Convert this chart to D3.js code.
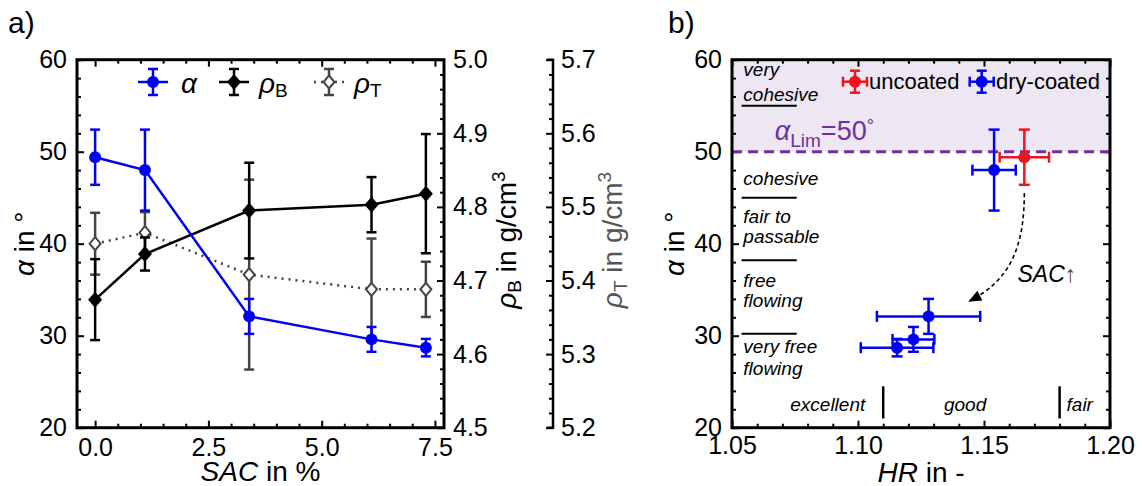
<!DOCTYPE html>
<html><head><meta charset="utf-8">
<script src="https://cdn.jsdelivr.net/npm/d3@7"></script>
<style>body{margin:0;background:#fff} svg text{font-family:"Liberation Sans",Arial,Helvetica,sans-serif}</style>
</head><body><svg id="c" width="1142" height="486"></svg>
<script>
// ---------- data: panel a ----------
const sac = [0, 1.1, 3.4, 6.1, 7.3];
const alpha = [49.4, 48.0, 32.1, 29.6, 28.7];
const alphaErr = [3.0, 4.4, 1.9, 1.35, 0.95];
const rhoB = [4.674, 4.736, 4.795, 4.803, 4.818];
const rhoBErr = [0.055, 0.0225, 0.065, 0.0375, 0.081];
const rhoT = [5.450, 5.465, 5.408, 5.388, 5.388];
const rhoTErr = [0.042, 0.028, 0.129, 0.069, 0.0375];
const sacTicks = [0, 2.5, 5, 7.5];
const alphaTicks = [20, 30, 40, 50, 60];
const rhoBTicks = [4.5, 4.6, 4.7, 4.8, 4.9, 5.0];
const rhoTTicks = [5.2, 5.3, 5.4, 5.5, 5.6, 5.7];
// ---------- data: panel b ----------
const hrUncoated = [1.166];
const alphaUncoated = [49.4];
const alphaUncoatedErr = [3.0];
const hrUncoatedErr = [0.0098];
const hrDry = [1.154, 1.128, 1.122, 1.1155];
const alphaDry = [48.0, 32.1, 29.6, 28.7];
const alphaDryErr = [4.4, 1.9, 1.35, 0.95];
const hrDryErr = [0.0086, 0.0205, 0.0083, 0.0144];
const hrTicks = [1.05, 1.10, 1.15, 1.20];
const alphaLim = 50;
const flowText = [["very", 58.2], ["cohesive", 55.5], ["cohesive", 46.4], ["fair to", 42.25], ["passable", 40.1], ["free", 35.3], ["flowing", 33.1], ["very free", 28.1], ["flowing", 25.7]];
const flowBounds = [55, 45, 38.2, 30.2];
const hrBounds = [1.11, 1.18];
const hrText = [["excellent", 1.088], ["good", 1.1425], ["fair", 1.188]];

const svg = d3.select("#c");
const FS = 25;

function axis(g, make, major, minor, fmt, pad, showLabels) {
  const a = g.append("g").call(make().tickValues(minor.filter(v => !major.some(m => Math.abs(m - v) < 1e-9))).tickSize(-4).tickFormat(""));
  a.select(".domain").remove();
  const b = g.append("g").call(make().tickValues(major).tickSize(-7).tickPadding(pad).tickFormat(showLabels ? fmt : ""));
  b.select(".domain").remove();
  b.selectAll("text").attr("font-size", FS).attr("fill", "#000").style("font-family", '"Liberation Sans",Arial,sans-serif');
  g.selectAll("line").attr("stroke", "#000").attr("stroke-width", 2);
}
const rng = (a, b, s) => d3.range(Math.round((b - a) / s) + 1).map(i => +(a + i * s).toFixed(4));

// ================= PANEL A =================
const L = {x0: 77, x1: 444, y0: 59.7, y1: 427.7};
const xL = d3.scaleLinear().domain([-0.4, 7.7]).range([L.x0, L.x1]);
const yL = d3.scaleLinear().domain([20, 60]).range([L.y1, L.y0]);
const yB = d3.scaleLinear().domain([4.5, 5.0]).range([L.y1, L.y0]);
const yT = d3.scaleLinear().domain([5.2, 5.7]).range([L.y1, L.y0]);
const ga = svg.append("g");

axis(ga.append("g").attr("transform", `translate(${L.x0},0)`), () => d3.axisLeft(yL), alphaTicks, rng(20, 60, 2), d3.format("d"), 10, true);
axis(ga.append("g").attr("transform", `translate(0,${L.y1})`), () => d3.axisBottom(xL), sacTicks, rng(0, 7.5, 0.5), d3.format(".1f"), 11, true);
axis(ga.append("g").attr("transform", `translate(0,${L.y0})`), () => d3.axisTop(xL), sacTicks, rng(0, 7.5, 0.5), d3.format(".1f"), 10, false);
axis(ga.append("g").attr("transform", `translate(${L.x1},0)`), () => d3.axisRight(yB), rhoBTicks, rng(4.5, 5.0, 0.02), d3.format(".1f"), 9, true);
// rho_T separate axis
const gT = ga.append("g").attr("transform", `translate(553,0)`);
axis(gT, () => d3.axisRight(yT), rhoTTicks, rng(5.2, 5.7, 0.02), d3.format(".1f"), 8, true);
gT.append("path").attr("d", `M-6,${L.y0}H0V${L.y1}H-6`).attr("fill", "none").attr("stroke", "#000").attr("stroke-width", 2.5);

const BLUE = "#0000f5", GREY = "#444", RED = "#f0141e";
function series(g, ys, vals, errs, color, dash, sym) {
  const pts = sac.map((s, i) => ({x: xL(s), y: ys(vals[i]), lo: ys(vals[i] - errs[i]), hi: ys(vals[i] + errs[i])}));
  g.append("path").attr("d", d3.line().x(d => d.x).y(d => d.y)(pts)).attr("fill", "none").attr("stroke", color).attr("stroke-width", 2.5).attr("stroke-dasharray", dash || null);
  const e = g.append("g").attr("stroke", color).attr("stroke-width", 2.5);
  e.selectAll(".v").data(pts).join("line").attr("x1", d => d.x).attr("x2", d => d.x).attr("y1", d => d.lo).attr("y2", d => d.hi);
  e.selectAll(".t").data(pts).join("line").attr("x1", d => d.x - 5).attr("x2", d => d.x + 5).attr("y1", d => d.hi).attr("y2", d => d.hi);
  e.selectAll(".b").data(pts).join("line").attr("x1", d => d.x - 5).attr("x2", d => d.x + 5).attr("y1", d => d.lo).attr("y2", d => d.lo);
  sym(g.selectAll(".m").data(pts).join("g").attr("transform", d => `translate(${d.x},${d.y})`));
}
const circ = (c) => (s) => s.append("circle").attr("r", 6).attr("fill", c);
const dia = (s) => s.append("path").attr("d", "M0,-8L7,0L0,8L-7,0Z").attr("fill", "#000");
const odia = (s) => s.append("path").attr("d", "M0,-6.5L5.5,0L0,6.5L-5.5,0Z").attr("fill", "#fff").attr("stroke", GREY).attr("stroke-width", 2);
series(ga, yT, rhoT, rhoTErr, GREY, "2,5", odia);
series(ga, yB, rhoB, rhoBErr, "#000", null, dia);
series(ga, yL, alpha, alphaErr, BLUE, null, circ(BLUE));
ga.append("rect").attr("x", L.x0).attr("y", L.y0).attr("width", L.x1 - L.x0).attr("height", L.y1 - L.y0).attr("fill", "none").attr("stroke", "#000").attr("stroke-width", 3);

// legend a
function legItem(g, cx, color, dash, sym) {
  const y = 82;
  g.append("line").attr("x1", cx - 15).attr("x2", cx + 15).attr("y1", y).attr("y2", y).attr("stroke", color).attr("stroke-width", 2.5).attr("stroke-dasharray", dash || null);
  g.append("line").attr("x1", cx).attr("x2", cx).attr("y1", y - 13).attr("y2", y + 13).attr("stroke", color).attr("stroke-width", 2.5);
  g.append("line").attr("x1", cx - 5).attr("x2", cx + 5).attr("y1", y - 13).attr("y2", y - 13).attr("stroke", color).attr("stroke-width", 2.5);
  g.append("line").attr("x1", cx - 5).attr("x2", cx + 5).attr("y1", y + 13).attr("y2", y + 13).attr("stroke", color).attr("stroke-width", 2.5);
  sym(g.append("g").attr("transform", `translate(${cx},${y})`));
}
legItem(ga, 153, BLUE, null, circ(BLUE));
legItem(ga, 234, "#000", null, dia);
legItem(ga, 329, GREY, "2,5", odia);
ga.append("text").attr("x", 181).attr("y", 93).attr("font-size", 28).attr("font-style", "italic").text("α");
const lb = ga.append("text").attr("x", 259).attr("y", 93).attr("font-size", 28);
lb.append("tspan").attr("font-style", "italic").text("ρ");
lb.append("tspan").attr("font-size", 19).attr("dy", 4).text("B");
const lt = ga.append("text").attr("x", 354).attr("y", 93).attr("font-size", 28);
lt.append("tspan").attr("font-style", "italic").text("ρ");
lt.append("tspan").attr("font-size", 19).attr("dy", 4).text("T");

// axis labels a
const ya = ga.append("text").attr("transform", "translate(34,243.7) rotate(-90)").attr("text-anchor", "middle").attr("font-size", 28);
ya.append("tspan").attr("font-style", "italic").text("α");
ya.append("tspan").text(" in °");
const xa = ga.append("text").attr("x", 260.5).attr("y", 481).attr("text-anchor", "middle").attr("font-size", 28);
xa.append("tspan").attr("font-style", "italic").text("SAC");
xa.append("tspan").text(" in %");
function rhoLabel(x, sub, color) {
  const t = ga.append("text").attr("transform", `translate(${x},240) rotate(-90)`).attr("text-anchor", "middle").attr("font-size", 28).attr("fill", color);
  t.append("tspan").attr("font-style", "italic").text("ρ");
  t.append("tspan").attr("font-size", 19).attr("dy", 5).text(sub);
  t.append("tspan").attr("dy", -5).text(" in g/cm");
  t.append("tspan").attr("font-size", 19).attr("dy", -11).text("3");
}
rhoLabel(516, "B", "#000");
rhoLabel(622, "T", "#555");
svg.append("text").attr("x", 8).attr("y", 33).attr("font-size", 30).text("a)");

// ================= PANEL B =================
const R = {x0: 732, x1: 1110, y0: 59.7, y1: 427.7};
const xR = d3.scaleLinear().domain([1.05, 1.20]).range([R.x0, R.x1]);
const yR = d3.scaleLinear().domain([20, 60]).range([R.y1, R.y0]);
const gb = svg.append("g");
gb.append("rect").attr("x", xR(1.05)).attr("y", yR(60)).attr("width", xR(1.2) - xR(1.05)).attr("height", yR(alphaLim) - yR(60)).attr("fill", "#ece7f2");
axis(gb.append("g").attr("transform", `translate(${R.x0},0)`), () => d3.axisLeft(yR), alphaTicks, rng(20, 60, 2), d3.format("d"), 10, true);
axis(gb.append("g").attr("transform", `translate(${R.x1},0)`), () => d3.axisRight(yR), alphaTicks, rng(20, 60, 2), d3.format("d"), 10, false);
axis(gb.append("g").attr("transform", `translate(0,${R.y1})`), () => d3.axisBottom(xR), hrTicks, rng(1.05, 1.2, 0.01), d3.format(".2f"), 9, true);
axis(gb.append("g").attr("transform", `translate(0,${R.y0})`), () => d3.axisTop(xR), hrTicks, rng(1.05, 1.2, 0.01), d3.format(".2f"), 9, false);

gb.append("line").attr("x1", xR(1.05)).attr("x2", xR(1.2)).attr("y1", yR(alphaLim)).attr("y2", yR(alphaLim)).attr("stroke", "#7030a0").attr("stroke-width", 3).attr("stroke-dasharray", "10,6");
const al = gb.append("text").attr("x", xR(1.067)).attr("y", yR(51.25)).attr("font-size", 27).attr("fill", "#7030a0");
al.append("tspan").attr("font-style", "italic").text("α");
al.append("tspan").attr("font-size", 19).attr("dy", 7).text("Lim");
al.append("tspan").attr("dy", -7).text("=50");
al.append("tspan").attr("font-size", 18).attr("dy", -8).text("°");

// flowability classes
gb.selectAll(".ft").data(flowText).join("text").attr("x", xR(1.0545)).attr("y", d => yR(d[1])).attr("font-size", 19).attr("font-style", "italic").text(d => d[0]);
gb.selectAll(".fb").data(flowBounds).join("line").attr("x1", xR(1.0538)).attr("x2", xR(1.0757)).attr("y1", d => yR(d)).attr("y2", d => yR(d)).attr("stroke", "#000").attr("stroke-width", 2);
gb.selectAll(".hb").data(hrBounds).join("line").attr("x1", d => xR(d)).attr("x2", d => xR(d)).attr("y1", yR(24.5)).attr("y2", yR(21)).attr("stroke", "#000").attr("stroke-width", 2.5);
gb.selectAll(".ht").data(hrText).join("text").attr("x", d => xR(d[1])).attr("y", yR(21.8)).attr("text-anchor", "middle").attr("font-size", 19).attr("font-style", "italic").text(d => d[0]);

// arrow
const defs = svg.append("defs");
defs.append("marker").attr("id", "ah").attr("viewBox", "0 0 12 10").attr("refX", 10).attr("refY", 5).attr("markerWidth", 14).attr("markerHeight", 11).attr("markerUnits", "userSpaceOnUse").attr("orient", "auto")
  .append("path").attr("d", "M0,0L12,5L0,10Z").attr("fill", "#000");
const arrowPts = [[1.166, 45.5], [1.166, 39.5], [1.160, 36.0], [1.1445, 33.8]].map(p => [xR(p[0]), yR(p[1])]);
gb.append("path").attr("d", `M${arrowPts[0]}C${arrowPts[1]} ${arrowPts[2]} ${arrowPts[3]}`).attr("fill", "none").attr("stroke", "#000").attr("stroke-width", 1.6).attr("stroke-dasharray", "4,3").attr("marker-end", "url(#ah)");
const st = gb.append("text").attr("x", xR(1.1633)).attr("y", yR(35.85)).attr("font-size", 23);
st.append("tspan").attr("font-style", "italic").text("SAC");
st.append("tspan").attr("fill", "#6b3d1e").text("↑");

function xyErr(g, xs, ys, xe, ye, color) {
  const pts = xs.map((x, i) => ({x: xR(x), y: yR(ys[i]), xl: xR(x - xe[i]), xh: xR(x + xe[i]), yl: yR(ys[i] - ye[i]), yh: yR(ys[i] + ye[i])}));
  const e = g.append("g").attr("stroke", color).attr("stroke-width", 2.5);
  pts.forEach(d => {
    e.append("line").attr("x1", d.xl).attr("x2", d.xh).attr("y1", d.y).attr("y2", d.y);
    e.append("line").attr("x1", d.x).attr("x2", d.x).attr("y1", d.yl).attr("y2", d.yh);
    [d.xl, d.xh].forEach(x => e.append("line").attr("x1", x).attr("x2", x).attr("y1", d.y - 5.5).attr("y2", d.y + 5.5));
    [d.yl, d.yh].forEach(y => e.append("line").attr("x1", d.x - 5.5).attr("x2", d.x + 5.5).attr("y1", y).attr("y2", y));
  });
  g.selectAll(null).data(pts).join("circle").attr("cx", d => d.x).attr("cy", d => d.y).attr("r", 6).attr("fill", color);
}
xyErr(gb, hrUncoated, alphaUncoated, hrUncoatedErr, alphaUncoatedErr, RED);
xyErr(gb, hrDry, alphaDry, hrDryErr, alphaDryErr, BLUE);

// legend b
function legB(cx, color, label, tx) {
  const y = 81.7, e = gb.append("g").attr("stroke", color).attr("stroke-width", 2.5);
  e.append("line").attr("x1", cx - 12).attr("x2", cx + 12).attr("y1", y).attr("y2", y);
  e.append("line").attr("x1", cx).attr("x2", cx).attr("y1", y - 11).attr("y2", y + 11);
  [cx - 12, cx + 12].forEach(x => e.append("line").attr("x1", x).attr("x2", x).attr("y1", y - 5).attr("y2", y + 5));
  [y - 11, y + 11].forEach(yy => e.append("line").attr("x1", cx - 5).attr("x2", cx + 5).attr("y1", yy).attr("y2", yy));
  gb.append("circle").attr("cx", cx).attr("cy", y).attr("r", 6).attr("fill", color);
  gb.append("text").attr("x", tx).attr("y", 89).attr("font-size", 22).text(label);
}
legB(855, RED, "uncoated", 869);
legB(981.7, BLUE, "dry-coated", 996);

gb.append("rect").attr("x", R.x0).attr("y", R.y0).attr("width", R.x1 - R.x0).attr("height", R.y1 - R.y0).attr("fill", "none").attr("stroke", "#000").attr("stroke-width", 3);
const yb = gb.append("text").attr("transform", "translate(684,243.7) rotate(-90)").attr("text-anchor", "middle").attr("font-size", 28);
yb.append("tspan").attr("font-style", "italic").text("α");
yb.append("tspan").text(" in °");
const xb = gb.append("text").attr("x", 921).attr("y", 482).attr("text-anchor", "middle").attr("font-size", 28);
xb.append("tspan").attr("font-style", "italic").text("HR");
xb.append("tspan").text(" in -");
svg.append("text").attr("x", 668).attr("y", 33).attr("font-size", 30).text("b)");
</script></body></html>
